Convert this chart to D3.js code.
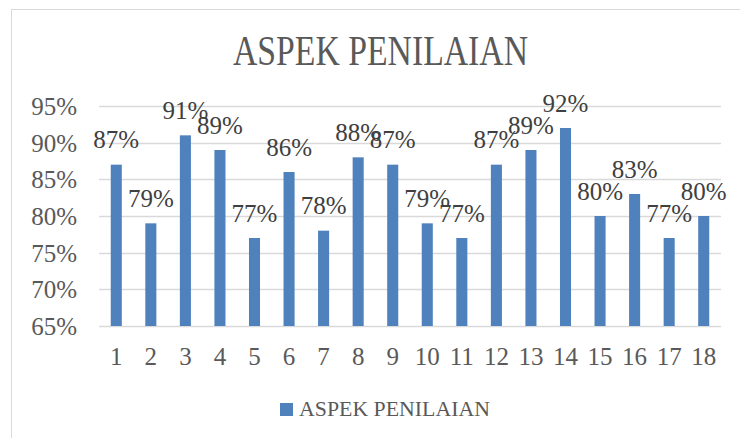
<!doctype html>
<html>
<head>
  <meta charset="utf-8">
  <script src="https://cdnjs.cloudflare.com/ajax/libs/d3/7.8.5/d3.min.js"></script>
  <style>
    html, body { margin: 0; padding: 0; background: #fff; }
    svg { display: block; font-family: "Liberation Serif", "DejaVu Serif", serif; }
  </style>
</head>
<body>
  <svg id="chart" width="740" height="438"></svg>
  <script>
    // chart data
    var categories = ["1", "2", "3", "4", "5", "6", "7", "8", "9", "10", "11", "12", "13", "14", "15", "16", "17", "18"]
    var values = [87, 79, 91, 89, 77, 86, 78, 88, 87, 79, 77, 87, 89, 92, 80, 83, 77, 80]
    var yTicks = [65, 70, 75, 80, 85, 90, 95]
    var seriesName = "ASPEK PENILAIAN"
    var title = "ASPEK PENILAIAN"

    var svg = d3.select("#chart")
    var plotLeft = 99, plotRight = 721, plotTop = 106, plotBottom = 326

    // outer chart border (runs off right and bottom edge)
    svg.append("rect")
      .attr("x", 11.5).attr("y", 9.5)
      .attr("width", 760).attr("height", 460)
      .attr("fill", "none")
      .attr("stroke", "#d9d9d9")
      .attr("stroke-width", 1)

    var x = d3.scaleBand()
      .domain(categories)
      .range([plotLeft, plotRight])
      .paddingInner(0.68)
      .paddingOuter(0.34)

    var y = d3.scaleLinear().domain([65, 95]).range([plotBottom, plotTop])

    // gridlines
    svg.append("g")
      .selectAll("line")
      .data(yTicks)
      .enter()
      .append("line")
      .attr("x1", plotLeft).attr("x2", plotRight)
      .attr("y1", d => Math.round(y(d)) + 0.5)
      .attr("y2", d => Math.round(y(d)) + 0.5)
      .attr("stroke", "#d9d9d9")
      .attr("stroke-width", 1.5)

    // y axis labels
    var yAxis = d3.axisLeft(y).tickValues(yTicks).tickSize(0).tickPadding(0).tickFormat(d => d + "%")
    var yg = svg.append("g").attr("transform", "translate(77,0)").call(yAxis)
    yg.select(".domain").remove()
    yg.selectAll("text")
      .attr("font-size", 25)
      .attr("font-family", "Liberation Serif")
      .attr("fill", "#595959")
      .attr("dy", "0.34em")

    // x axis labels
    var xAxis = d3.axisBottom(x).tickSize(0).tickPadding(0)
    var xg = svg.append("g").attr("transform", "translate(0,347)").call(xAxis)
    xg.select(".domain").remove()
    xg.selectAll("text")
      .attr("font-size", 25)
      .attr("font-family", "Liberation Serif")
      .attr("fill", "#595959")
      .attr("dy", "0.71em")

    // bars
    svg.append("g")
      .selectAll("rect")
      .data(values)
      .enter()
      .append("rect")
      .attr("x", (d, i) => x(categories[i]))
      .attr("width", x.bandwidth())
      .attr("y", d => y(d))
      .attr("height", d => y(65) - y(d))
      .attr("fill", "#4f81bd")

    // data labels
    svg.append("g")
      .selectAll("text")
      .data(values)
      .enter()
      .append("text")
      .attr("x", (d, i) => x(categories[i]) + x.bandwidth() / 2)
      .attr("y", d => y(d) - 16.5)
      .attr("text-anchor", "middle")
      .attr("font-size", 25)
      .attr("fill", "#404040")
      .text(d => d + "%")

    // title
    svg.append("text")
      .attr("x", 380.5).attr("y", 65)
      .attr("text-anchor", "middle")
      .attr("font-size", 42)
      .attr("fill", "#595959")
      .attr("textLength", 295)
      .attr("lengthAdjust", "spacingAndGlyphs")
      .text(title)

    // legend
    var lg = svg.append("g").attr("transform", "translate(280,403)")
    lg.append("rect").attr("width", 13).attr("height", 13).attr("fill", "#4f81bd")
    lg.append("text")
      .attr("x", 19).attr("y", 13)
      .attr("font-size", 21)
      .attr("fill", "#595959")
      .attr("textLength", 191)
      .attr("lengthAdjust", "spacingAndGlyphs")
      .text(seriesName)
  </script>
</body>
</html>
